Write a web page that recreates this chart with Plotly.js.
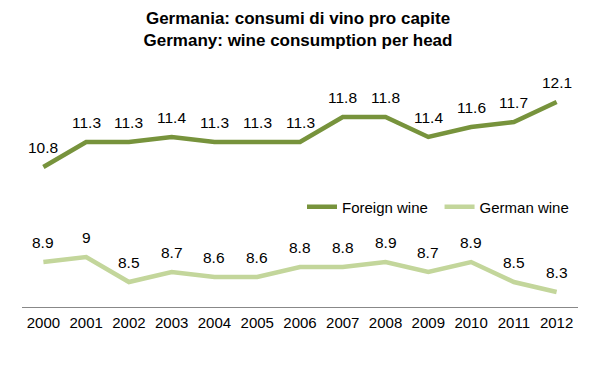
<!DOCTYPE html>
<html><head><meta charset="utf-8">
<script src="https://cdn.plot.ly/plotly-3.0.1.min.js"></script>
<style>body{margin:0;background:#fff}#c{width:596px;height:368px}</style>
</head><body><div id="c"></div>
<script>
const years = ['2000','2001','2002','2003','2004','2005','2006','2007','2008','2009','2010','2011','2012'];
const foreignWine = [10.8,11.3,11.3,11.4,11.3,11.3,11.3,11.8,11.8,11.4,11.6,11.7,12.1];
const germanWine = [8.9,9,8.5,8.7,8.6,8.6,8.8,8.8,8.9,8.7,8.9,8.5,8.3];
const FONT = '"Liberation Sans", Arial, sans-serif';
const traces = [
  {x: years, y: foreignWine, name: 'Foreign wine', mode: 'lines', line: {color: '#77933C', width: 4.5}, legend: 'legend'},
  {x: years, y: germanWine, name: 'German wine', mode: 'lines', line: {color: '#C3D69B', width: 4.5}, legend: 'legend2'}
];
const annotations = [];
function addLabels(vals){
  vals.forEach((v,i)=>annotations.push({xref: 'x', yref: 'y', x: i, y: v, text: String(v), showarrow: false, yshift: 20, yanchor: 'middle', xanchor: 'center', font: {family: FONT, size: 15.5, color: '#000'}}));
}
addLabels(foreignWine); addLabels(germanWine);
const legendBase = {orientation: 'h', y: 0.435, xanchor: 'left', yanchor: 'middle', itemwidth: 30, font: {family: FONT, size: 15, color: '#000'}, bgcolor: 'rgba(0,0,0,0)'};
const layout = {
  width: 596, height: 368,
  margin: {l: 21.6, r: 17.6, t: 77, b: 61},
  paper_bgcolor: '#fff', plot_bgcolor: '#fff',
  title: {text: '<b>Germania: consumi di vino pro capite<br>Germany: wine consumption per head</b>', x: 0.5, xanchor: 'center', y: 0.935, yanchor: 'middle', font: {family: FONT, size: 17, color: '#000'}},
  xaxis: {type: 'category', range: [-0.5, 12.5], showgrid: false, zeroline: false, showline: true, linecolor: '#888', linewidth: 1, ticks: '', ticklabelstandoff: 2, tickfont: {family: FONT, size: 15, color: '#000'}, fixedrange: true},
  yaxis: {range: [8, 12.6], showgrid: false, zeroline: false, showline: false, showticklabels: false, ticks: '', fixedrange: true},
  showlegend: true,
  legend: Object.assign({}, legendBase, {x: 0.5036}),
  legend2: Object.assign({}, legendBase, {x: 0.751}),
  annotations: annotations
};
Plotly.newPlot('c', traces, layout, {displayModeBar: false, staticPlot: true});
</script></body></html>
